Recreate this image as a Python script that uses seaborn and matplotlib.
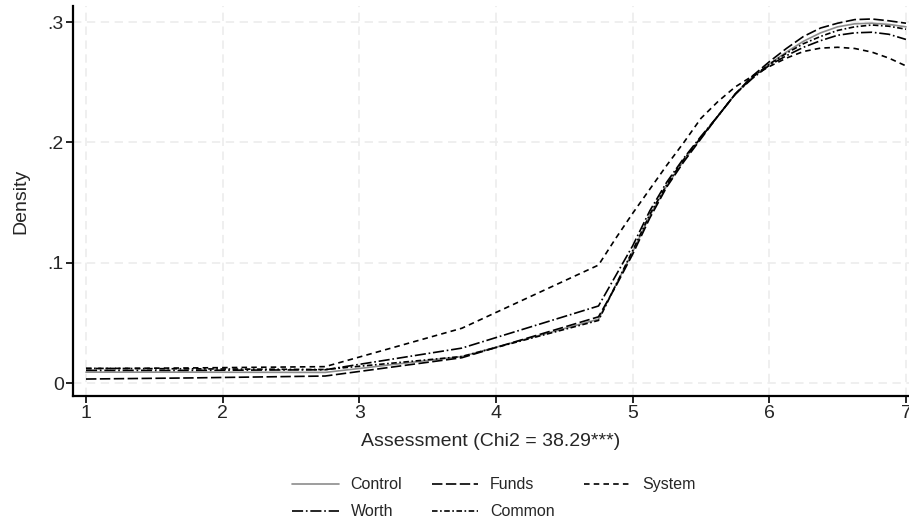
import matplotlib
matplotlib.use("Agg")
import matplotlib.pyplot as plt
import seaborn as sns
import pandas as pd

# Evaluation points of the kernel density estimates
assessment = [1.0, 1.75, 2.75, 3.75, 4.75, 4.875, 5.0, 5.125, 5.25, 5.375, 5.5,
              5.625, 5.75, 5.875, 6.0, 6.125, 6.25, 6.375, 6.5, 6.625, 6.75,
              6.875, 7.0]

density_control = [0.009, 0.009, 0.0088, 0.022, 0.053, 0.081, 0.109, 0.139, 0.164,
                   0.185, 0.204, 0.222, 0.240, 0.254, 0.265, 0.275, 0.284, 0.291,
                   0.296, 0.2985, 0.299, 0.298, 0.296]
density_funds = [0.0033, 0.0042, 0.0058, 0.021, 0.055, 0.080, 0.107, 0.137, 0.163,
                 0.184, 0.203, 0.222, 0.240, 0.255, 0.267, 0.278, 0.288, 0.295,
                 0.299, 0.302, 0.3025, 0.301, 0.299]
density_system = [0.012, 0.0125, 0.0136, 0.0455, 0.098, 0.120, 0.141, 0.161, 0.181,
                  0.200, 0.220, 0.234, 0.246, 0.255, 0.263, 0.270, 0.2755, 0.2783,
                  0.279, 0.278, 0.275, 0.270, 0.2635]
density_worth = [0.0105, 0.0105, 0.011, 0.029, 0.064, 0.089, 0.114, 0.143, 0.167,
                 0.187, 0.205, 0.222, 0.240, 0.253, 0.264, 0.272, 0.279, 0.2845,
                 0.289, 0.291, 0.2915, 0.2898, 0.2855]
density_common = [0.0122, 0.0118, 0.0112, 0.022, 0.052, 0.081, 0.110, 0.140, 0.165,
                  0.186, 0.204, 0.222, 0.240, 0.254, 0.265, 0.274, 0.282, 0.288,
                  0.293, 0.296, 0.2975, 0.2965, 0.294]

groups = ["Control", "Funds", "System", "Worth", "Common"]
x_ticks = [1, 2, 3, 4, 5, 6, 7]
y_ticks = [0, 0.1, 0.2, 0.3]
y_tick_labels = ["0", ".1", ".2", ".3"]
x_title = "Assessment (Chi2 = 38.29***)"
y_title = "Density"

sns.set_style("white")
plt.rcParams["font.family"] = ["Liberation Sans", "DejaVu Sans"]
plt.rcParams["lines.scale_dashes"] = False

frames = []
for name, vals in zip(groups, [density_control, density_funds, density_system,
                               density_worth, density_common]):
    frames.append(pd.DataFrame({"x": assessment, "y": vals, "group": name}))
df = pd.concat(frames, ignore_index=True)

line_styles = {
    "Control": dict(color="#8c8c8c", linestyle="-"),
    "Funds": dict(color="black", linestyle=(0, (7.5, 2.5))),
    "System": dict(color="black", linestyle=(0, (4, 3))),
    "Worth": dict(color="black", linestyle=(0, (8, 2, 1.2, 2))),
    "Common": dict(color="black", linestyle=(0, (4, 1.8, 1.2, 1.8))),
}

fig = plt.figure(figsize=(9.09, 5.23), dpi=100)
ax = fig.add_axes([73 / 909, 127 / 523, 836 / 909, 390 / 523])

handles = {}
for name in groups:
    sub = df[df["group"] == name]
    sns.lineplot(data=sub, x="x", y="y", ax=ax, linewidth=1.2,
                 label=name, **line_styles[name])
    handles[name] = ax.get_lines()[-1]

ax.set_xlim(0.905, 7.022)
ax.set_ylim(-0.0108, 0.3133)
ax.set_xticks(x_ticks)
ax.set_xticklabels([str(t) for t in x_ticks])
ax.set_yticks(y_ticks)
ax.set_yticklabels(y_tick_labels)

ax.grid(True, color="#ececec", linestyle=(0, (6, 4)), linewidth=1.2)
ax.set_axisbelow(True)
for side in ["top", "right"]:
    ax.spines[side].set_visible(False)
for side in ["left", "bottom"]:
    ax.spines[side].set_color("black")
    ax.spines[side].set_linewidth(1.6)
ax.tick_params(axis="both", direction="out", length=5, width=1.2,
               color="black", labelsize=14, left=True, bottom=True, pad=1.5)

ax.set_xlabel(x_title, fontsize=14, labelpad=8)
ax.set_ylabel(y_title, fontsize=14, labelpad=13)

order = ["Control", "Worth", "Funds", "Common", "System"]
ax.legend([handles[n] for n in order], order, loc="upper center",
          bbox_to_anchor=(0.5036, -0.172), ncol=3, frameon=False, fontsize=11.5,
          handlelength=2.9, handletextpad=0.75, columnspacing=1.85,
          labelspacing=0.74)

fig.savefig("out.png", dpi=100, facecolor="white")
